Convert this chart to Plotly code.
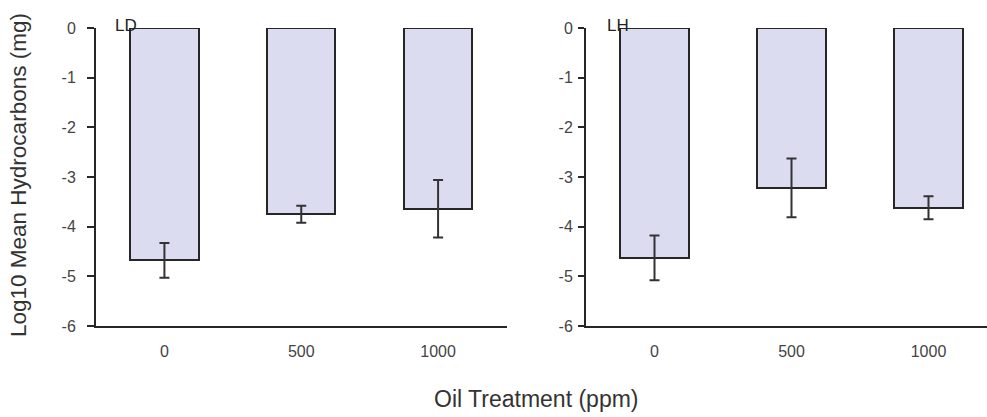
import plotly.graph_objects as go

categories = ["0", "500", "1000"]
ld_means = [-4.68, -3.75, -3.64]
ld_err = [0.35, 0.17, 0.58]
lh_means = [-4.63, -3.22, -3.62]
lh_err = [0.45, 0.59, 0.23]
y_ticks = [0, -1, -2, -3, -4, -5, -6]
panel_labels = ["LD", "LH"]

W, H = 987, 417
FONT = "Liberation Sans, Arial, sans-serif"
BAR_FILL = "#dcdcf1"
DARK = "#262626"

fig = go.Figure()
for i, (means, errs) in enumerate([(ld_means, ld_err), (lh_means, lh_err)]):
    ax = "" if i == 0 else "2"
    fig.add_trace(go.Bar(
        x=list(range(len(categories))), y=means,
        width=0.5,
        marker=dict(color=BAR_FILL, line=dict(color=DARK, width=2)),
        error_y=dict(type="data", array=errs, visible=True, thickness=2, width=5, color="#333333"),
        xaxis="x" + ax, yaxis="y" + ax, showlegend=False,
    ))

m_top, m_bot = 28, 91
xaxis_common = dict(
    tickmode="array", tickvals=list(range(len(categories))), ticktext=categories,
    showline=True, linecolor=DARK, linewidth=2, ticks="outside", ticklen=10,
    tickcolor="rgba(0,0,0,0)", showgrid=False, zeroline=False,
    tickfont=dict(family=FONT, size=16, color="#444444"),
)
yaxis_common = dict(
    range=[-6, 0], tickmode="array", tickvals=y_ticks, ticktext=[str(t) for t in y_ticks],
    showline=True, linecolor=DARK, linewidth=2, ticks="outside",
    tickcolor=DARK, tickwidth=1.5, showgrid=False, zeroline=False,
    tickfont=dict(family=FONT, size=16, color="#444444"),
)

fig.update_layout(
    width=W, height=H,
    margin=dict(l=0, r=0, t=m_top, b=m_bot),
    paper_bgcolor="white", plot_bgcolor="white",
    xaxis=dict(domain=[96 / W, 506.5 / W], range=[-0.5, 2.5], anchor="y", **xaxis_common),
    yaxis=dict(domain=[0, 1], anchor="x", ticklen=7, ticklabelstandoff=8, **yaxis_common),
    xaxis2=dict(domain=[586 / W, 1.0], range=[-0.5, 2.427], anchor="y2", **xaxis_common),
    yaxis2=dict(domain=[0, 1], anchor="x2", ticklen=6, ticklabelstandoff=2, **yaxis_common),
    bargap=0,
)

annotations = [
    dict(text=panel_labels[0], x=126 / W, y=1 + 3 / (H - m_top - m_bot), xref="paper", yref="paper",
         showarrow=False, font=dict(family=FONT, size=17, color="#222222"), xanchor="center", yanchor="middle"),
    dict(text=panel_labels[1], x=618 / W, y=1 + 3 / (H - m_top - m_bot), xref="paper", yref="paper",
         showarrow=False, font=dict(family=FONT, size=17, color="#222222"), xanchor="center", yanchor="middle"),
    dict(text="Log10 Mean Hydrocarbons (mg)", x=18 / W, y=(H - m_bot - 175) / (H - m_top - m_bot),
         xref="paper", yref="paper", showarrow=False, textangle=-90,
         font=dict(family=FONT, size=22.5, color="#333333"), xanchor="center", yanchor="middle"),
    dict(text="Oil Treatment (ppm)", x=536 / W, y=-(399 - (H - m_bot)) / (H - m_top - m_bot),
         xref="paper", yref="paper", showarrow=False,
         font=dict(family=FONT, size=23, color="#333333"), xanchor="center", yanchor="middle"),
]
fig.update_layout(annotations=annotations)

fig.write_html("out.html")
